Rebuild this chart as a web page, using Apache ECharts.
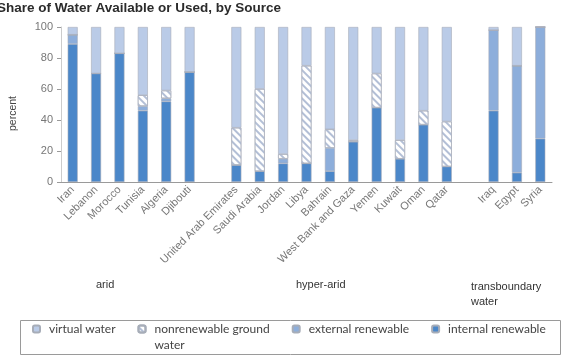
<!DOCTYPE html>
<html>
<head>
<meta charset="utf-8">
<script src="https://cdn.jsdelivr.net/npm/echarts@6/dist/echarts.min.js"></script>
<style>
  html, body { margin: 0; padding: 0; background: #fff; }
  #chart { width: 564px; height: 362px; }
</style>
</head>
<body>
<div id="chart"></div>
<script>
// countries, '' = spacer between groups
var countries = ['Iran', 'Lebanon', 'Morocco', 'Tunisia', 'Algeria', 'Djibouti', '',
    'United Arab Emirates', 'Saudi Arabia', 'Jordan', 'Libya', 'Bahrain', 'West Bank and Gaza',
    'Yemen', 'Kuwait', 'Oman', 'Qatar', ' ', 'Iraq', 'Egypt', 'Syria'];

// percent shares, stacked from bottom
var internalRenewable = [89, 70, 83, 46, 52, 71, null, 11, 7, 12, 12, 7, 26, 48, 15, 37, 10, null, 46, 6, 28];
var externalRenewable = [6, 0, 0, 3, 2, 0, null, 0, 0, 3, 0, 15, 0, 0, 0, 0, 0, null, 52, 69, 72];
var nonrenewableGround = [0, 0, 0, 7, 5, 0, null, 24, 53, 3, 63, 12, 1, 22, 12, 9, 29, null, 0, 0, 0];
var virtualWater = [5, 30, 17, 44, 41, 29, null, 65, 40, 82, 25, 66, 73, 30, 73, 54, 61, null, 2, 25, 0];

var yTicks = [0, 20, 40, 60, 80, 100];
var groupNames = ['arid', 'hyper-arid', 'transboundary\nwater'];

var chart = echarts.init(document.getElementById('chart'));

function makeSeries(name, data, color, decal) {
    var s = {
        name: name,
        type: 'bar',
        stack: 'total',
        barWidth: 10,
        data: data,
        itemStyle: {
            color: color,
            borderColor: '#a7adb8',
            borderWidth: 0.6
        }
    };
    if (decal) s.itemStyle.decal = decal;
    return s;
}

var hatch = {
    symbol: 'rect',
    symbolSize: 1,
    dashArrayX: [1, 0],
    dashArrayY: [1.3, 2.7],
    rotation: Math.PI / 4,
    color: '#b3bfd6'
};

chart.setOption({
    animation: false,
    aria: { enabled: false },
    title: {
        text: 'Share of Water Available or Used, by Source',
        left: -8,
        top: -4,
        textStyle: { fontFamily: 'Liberation Sans', fontSize: 13.5, fontWeight: 'bold', color: '#2b2b2b' }
    },
    grid: { left: 58, right: 12, top: 27, bottom: 180 },
    legend: {
        data: ['virtual water', 'nonrenewable ground water', 'external renewable', 'internal renewable'],
        left: 32,
        top: 305,
        width: 525,
        padding: 0,
        itemGap: 22,
        itemWidth: 7,
        itemHeight: 7,
        // blank first line keeps the wrapped entry's first line level with its icon
        formatter: function (name) {
            return name === 'nonrenewable ground water' ? ' \nnonrenewable ground\nwater' : name;
        },
        textStyle: { fontFamily: 'Lato', fontSize: 12, color: '#444', lineHeight: 16, padding: [0, 0, 0, 4] }
    },
    xAxis: {
        type: 'category',
        data: countries,
        axisLine: { lineStyle: { color: '#9a9a9a' } },
        axisTick: { lineStyle: { color: '#9a9a9a' } },
        axisLabel: {
            rotate: 45,
            interval: 0,
            fontFamily: 'Liberation Sans',
            fontSize: 11,
            color: '#777',
            margin: 6
        }
    },
    yAxis: {
        type: 'value',
        min: yTicks[0],
        max: yTicks[yTicks.length - 1],
        interval: 20,
        name: 'percent',
        nameLocation: 'middle',
        nameGap: 42,
        nameTextStyle: { fontFamily: 'Liberation Sans', fontSize: 10.5, color: '#444', padding: [0, 0, 0, -18] },
        axisLine: { show: true, lineStyle: { color: '#cccccc' } },
        axisTick: { show: true, length: 4, lineStyle: { color: '#9a9a9a' } },
        splitLine: { show: false },
        axisLabel: { fontFamily: 'Liberation Sans', fontSize: 11, color: '#777', margin: 8 }
    },
    graphic: [
        { type: 'rect', left: 18, top: 318, shape: { width: 540, height: 34 }, style: { fill: 'none', stroke: '#9a9a9a', lineWidth: 1 } },
        { type: 'text', left: 96, top: 279, style: { text: groupNames[0], font: '11px Liberation Sans', fill: '#333' } },
        { type: 'text', left: 296, top: 279, style: { text: groupNames[1], font: '11px Liberation Sans', fill: '#333' } },
        { type: 'text', left: 471, top: 279, style: { text: groupNames[2], font: '11px Liberation Sans', fill: '#333', align: 'center', lineHeight: 15, width: 82 } }
    ],
    series: [
        makeSeries('internal renewable', internalRenewable, '#4b87c9'),
        makeSeries('external renewable', externalRenewable, '#8daedb'),
        makeSeries('nonrenewable ground water', nonrenewableGround, '#ffffff', hatch),
        makeSeries('virtual water', virtualWater, '#bacbe7')
    ]
});
</script>
</body>
</html>
